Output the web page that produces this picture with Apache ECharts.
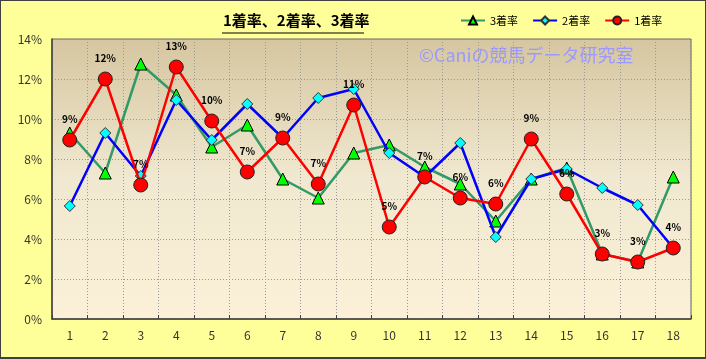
<!DOCTYPE html>
<html><head><meta charset="utf-8">
<script src="https://cdn.jsdelivr.net/npm/echarts@6/dist/echarts.min.js"></script>
<style>html,body{margin:0;padding:0;}#c{width:706px;height:359px;box-sizing:border-box;border:1px solid #404040;border-bottom-width:2px;background:#FFFF99;}</style>
</head><body><div id="c"></div>
<script>
const categories = ['1','2','3','4','5','6','7','8','9','10','11','12','13','14','15','16','17','18'];
const rate3 = [9.3,7.3,12.75,11.2,8.6,9.7,7.0,6.05,8.3,8.7,7.6,6.75,4.9,7.0,7.55,3.25,2.85,7.1];
const rate2 = [5.65,9.3,7.15,10.95,8.95,10.75,9.05,11.05,11.5,8.3,7.1,8.8,4.1,7.0,7.5,6.55,5.7,3.55];
const rate1 = [8.95,12.0,6.7,12.6,9.9,7.35,9.05,6.75,10.7,4.6,7.1,6.05,5.75,9.0,6.25,3.25,2.85,3.55];
const yTicks = {min:0, max:14, interval:2};
const titleText = '1着率、2着率、3着率';
const watermark = '©Caniの競馬データ研究室';

const chart = echarts.init(document.getElementById('c'));
chart.setOption({
  animation:false,
  backgroundColor:'#FFFF99',
  textStyle:{fontFamily:'"Noto Sans CJK JP", sans-serif'},
  graphic:[
    {type:'text', left:222, top:12, style:{text:titleText, font:'bold 15px "Noto Sans CJK JP", sans-serif', fill:'#000'}},
    {type:'line', shape:{x1:221,y1:32,x2:363,y2:32}, style:{stroke:'#000', lineWidth:1}},
    {type:'text', left:418, top:45, z:1, style:{text:watermark, font:'18px "Noto Sans CJK JP", sans-serif', fill:'#9999FF'}}
  ],
  legend:{
    top:9, left:454, itemGap:14, itemWidth:24, itemHeight:10,
    textStyle:{fontSize:11, color:'#000'},
    data:['3着率','2着率','1着率']
  },
  grid:{left:51, right:14, top:38, bottom:38, show:true, borderColor:'#666', borderWidth:1,
    backgroundColor:{type:'linear',x:0,y:0,x2:0,y2:1,colorStops:[{offset:0,color:'#D6C6A0'},{offset:0.5,color:'#F0E8D0'},{offset:1,color:'#FCF0D8'}]}},
  xAxis:{
    type:'category', data:categories, boundaryGap:true,
    axisLine:{lineStyle:{color:'#404040', width:1.5}},
    axisTick:{show:true, inside:true, length:4, lineStyle:{color:'#404040'}},
    axisLabel:{color:'#333', fontSize:12, margin:10},
    splitLine:{show:true, lineStyle:{color:'#999', type:[1,2], width:1}}
  },
  yAxis:{
    type:'value', min:yTicks.min, max:yTicks.max, interval:yTicks.interval,
    axisLine:{show:true, lineStyle:{color:'#404040', width:1.5}},
    axisTick:{show:false},
    axisLabel:{color:'#333', fontSize:12, formatter:'{value}%', margin:10},
    splitLine:{show:true, lineStyle:{color:'#999', type:[1,2], width:1}}
  },
  series:[
    {name:'3着率', type:'line', data:rate3, symbol:'triangle', symbolSize:12,
     lineStyle:{color:'#339966', width:2.5}, itemStyle:{color:'#00FF00', borderColor:'#000', borderWidth:1}, z:2},
    {name:'2着率', type:'line', data:rate2, symbol:'diamond', symbolSize:11,
     lineStyle:{color:'#0000FF', width:2.5}, itemStyle:{color:'#00FFFF', borderColor:'#333', borderWidth:1}, z:3},
    {name:'1着率', type:'line', data:rate1, symbol:'circle', symbolSize:14,
     lineStyle:{color:'#FF0000', width:2.5}, itemStyle:{color:'#FF0000', borderColor:'#222', borderWidth:1}, z:4,
     label:{show:true, position:'top', distance:8, color:'#000', fontSize:10, fontWeight:'bold',
       formatter:p=>Math.round(p.value)+'%'}}
  ]
});
</script></body></html>
